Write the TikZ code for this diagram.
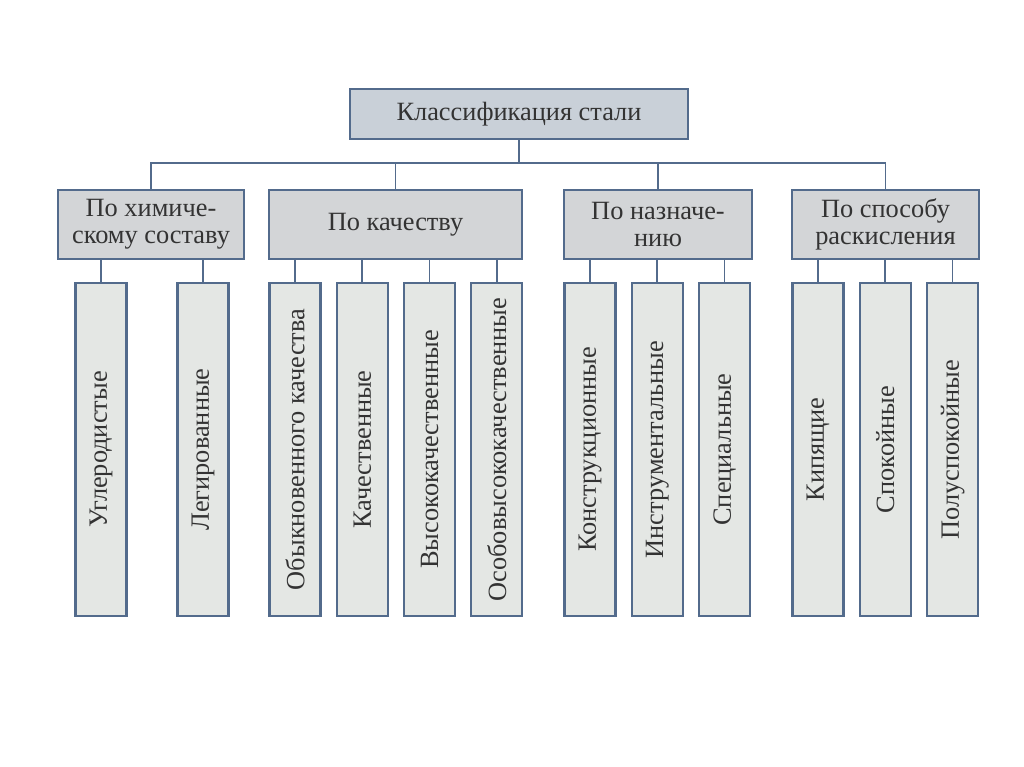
\documentclass[tikz,border=0pt]{standalone}
\usepackage{fontspec}
\setmainfont{Liberation Serif}
\usepackage{graphicx}
\usepackage{tikz}
\usetikzlibrary {positioning}

\definecolor{edge}{HTML}{536B8C}
\definecolor{rootfill}{HTML}{C9D0D8}
\definecolor{groupfill}{HTML}{D3D5D7}
\definecolor{leaffill}{HTML}{E4E7E4}
\definecolor{ink}{HTML}{333333}
\newcommand{\vtxt}[1]{\rotatebox{90}{#1}}

\begin{document}
\begin{tikzpicture}
	[align=center,node distance=0.28cm,font=\fontsize{15}{15.5}\selectfont,text=ink,
	root/.style={rectangle,draw=edge,line width=1.3pt,fill=rootfill,minimum width=6.76cm,minimum height=1cm},
	group/.style={rectangle,draw=edge,line width=1.3pt,fill=groupfill,minimum height=1.38cm,inner sep=1pt},
	leaf/.style={rectangle,draw=edge,line width=1.3pt,fill=leaffill,minimum width=1.02cm,minimum height=6.66cm,inner sep=0pt},
	link/.style={draw=edge,line width=1pt}]
	\useasboundingbox (0,0) rectangle (20.48,-15.34);
	\node[root] (root) at (10.38,-2.28) {Классификация стали};
	\node[group,minimum width=3.72cm] (chem) at (3.02,-4.49) {По химиче-\\скому составу};
	\node[group,minimum width=5.06cm] (qual) at (7.91,-4.49) {По качеству};
	\node[group,minimum width=3.76cm] (purp) at (13.16,-4.49) {По назначе-\\нию};
	\node[group,minimum width=3.74cm] (deox) at (17.71,-4.49) {По способу\\раскисления};
	\node[leaf] (carb) at (2.02,-8.99) {\vtxt{Углеродистые}};
	\node[leaf] (alloy) at (4.06,-8.99) {\vtxt{Легированные}};
	\node[leaf] (ordq) at (5.9,-8.99) {\vtxt{Обыкновенного качества}};
	\node[leaf] (qua) [right=of ordq] {\vtxt{Качественные}};
	\node[leaf] (highq) [right=of qua] {\vtxt{Высококачественные}};
	\node[leaf] (vhighq) [right=of highq] {\vtxt{Особовысококачественные}};
	\node[leaf] (struct) at (11.8,-8.99) {\vtxt{Конструкционные}};
	\node[leaf] (tool) [right=of struct] {\vtxt{Инструментальные}};
	\node[leaf] (spec) [right=of tool] {\vtxt{Специальные}};
	\node[leaf] (boil) at (16.36,-8.99) {\vtxt{Кипящие}};
	\node[leaf] (calm) [right=of boil] {\vtxt{Спокойные}};
	\node[leaf] (semi) [right=of calm] {\vtxt{Полуспокойные}};
	\draw [link] (root.south) -- ++(0,-0.46) coordinate (bus);
	\draw [link] (chem.north) |- (bus) -| (deox.north);
	\draw [link] (qual.north) -- (qual.north |- bus);
	\draw [link] (purp.north) -- (purp.north |- bus);
	\foreach \g/\l in {chem/carb,chem/alloy,qual/ordq,qual/qua,qual/highq,qual/vhighq,purp/struct,purp/tool,purp/spec,deox/boil,deox/calm,deox/semi}
		\draw [link] (\l.north |- \g.south) -- (\l.north);
	\end{tikzpicture}
\end{document}
